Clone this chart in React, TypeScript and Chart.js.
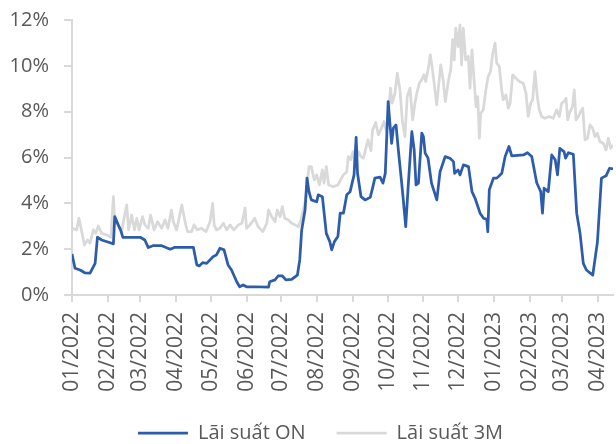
import React, { useEffect, useRef } from "react";
import { Chart, registerables } from "chart.js";

Chart.register(...registerables);

// Day offsets counted from 01/01/2022
const monthTickDays = [0, 31, 59, 90, 120, 151, 181, 212, 243, 273, 304, 334, 365, 396, 424, 455];
const monthLabels = [
  "01/2022", "02/2022", "03/2022", "04/2022", "05/2022", "06/2022", "07/2022", "08/2022",
  "09/2022", "10/2022", "11/2022", "12/2022", "01/2023", "02/2023", "03/2023", "04/2023",
];
const yTickValues = [0, 2, 4, 6, 8, 10, 12];

// Lãi suất ON (overnight)
const onDays = [
  0, 2.6, 7, 11, 15.6, 20, 22, 25.7, 33, 35.8, 37, 40, 42, 44, 59, 63, 66, 70, 77.6, 85, 89, 105,
  108, 110, 113, 116.5, 122, 125, 128, 131.5, 135, 138, 142.5, 145, 148, 151, 157, 170, 171, 175.6,
  178.5, 182, 185, 190, 195, 197, 198.7, 201.6, 203.3, 205, 207, 211.7, 213, 216.6, 220, 223, 224.7,
  227, 230, 232, 234.8, 237.7, 240.6, 244, 245.8, 247, 250, 253.5, 258, 260, 262, 266.5, 269, 271,
  273.5, 275, 276.5, 278, 280.3, 282.3, 285.2, 286.5, 288.7, 291, 294, 296, 297.6, 299.7, 302.6,
  304, 305.5, 308, 311, 315.6, 318.4, 322.8, 327, 330, 331, 334, 335.7, 338.6, 343, 346, 348.7,
  353, 356, 358.8, 359.7, 361, 364.6, 367.5, 371.8, 374.7, 378, 380.4, 390.5, 394, 397.7, 402,
  405.5, 407, 408.4, 412, 415, 418, 420, 422, 425.6, 427, 429.5, 433.7, 436.6, 439.5, 442.3, 445,
  450.5, 454.5, 458, 462, 465, 468,
];
const onValues = [
  1.79, 1.17, 1.09, 0.97, 0.95, 1.38, 2.52, 2.4, 2.28, 2.23, 3.42, 3.06, 2.84, 2.52, 2.52, 2.4, 2.07,
  2.15, 2.15, 2.0, 2.08, 2.08, 1.31, 1.27, 1.41, 1.38, 1.67, 1.75, 2.04, 1.97, 1.31, 1.09, 0.58,
  0.36, 0.44, 0.36, 0.36, 0.34, 0.58, 0.66, 0.84, 0.83, 0.66, 0.68, 0.87, 1.53, 2.84, 3.71, 5.1,
  4.51, 4.15, 4.07, 4.37, 4.29, 2.69, 2.33, 1.97, 2.33, 2.55, 3.57, 3.57, 4.37, 4.51, 5.24, 6.88,
  5.31, 4.29, 4.15, 4.26, 4.66, 5.1, 5.14, 4.88, 5.31, 8.44, 7.5, 6.62, 7.28, 7.42, 6.33, 4.88,
  4.2, 2.98, 4.88, 7.13, 6.33, 4.8, 4.88, 7.06, 6.91, 6.19, 5.97, 4.88, 4.15, 5.38, 6.04, 5.97,
  5.82, 5.31, 5.46, 5.24, 5.68, 5.6, 4.51, 4.22, 3.57, 3.35, 3.3, 2.76, 4.59, 5.1, 5.1, 5.31, 6.04,
  6.48, 6.07, 6.11, 6.21, 6.04, 4.9, 4.51, 3.57, 4.66, 4.51, 6.11, 5.9, 5.24, 6.4, 6.26, 5.97,
  6.21, 6.14, 3.57, 2.69, 1.38, 1.09, 0.87, 2.3, 5.1, 5.2, 5.53, 5.5,
];

// Lãi suất 3M
const m3Days = [
  0, 4, 6, 8.4, 10.7, 13.5, 15.6, 18.5, 20.5, 22.8, 25.7, 30, 33.7, 35.8, 37, 38.5, 40.6, 43, 45,
  47.3, 49, 51.6, 54, 56, 58, 61, 63, 66, 68, 71, 74, 77.6, 80.5, 83, 86, 87.6, 90.5, 95, 97.8,
  99.8, 103.5, 105.5, 108.4, 112, 116, 119.4, 121.7, 123, 125, 128, 131, 133.8, 136.7, 140, 144,
  147, 149.7, 151, 154, 158, 161, 165, 168.5, 170, 172.7, 175.6, 177.6, 180, 182, 184, 187, 190,
  193, 196, 198, 200, 202, 205, 207, 209.6, 211.7, 214, 216.6, 218, 220, 222, 226, 230, 234.7,
  237.7, 239, 241, 243, 245, 247.7, 250, 252, 253.5, 256, 258.6, 260, 262.7, 265, 267, 270, 272, 274,
  275.5, 277, 279.4, 281.4, 283.7, 285.7, 288, 290, 292.4, 294.7, 296.7, 298, 300.4, 302.5,
  304.5, 306, 308, 310, 312.6, 315.5, 317.5, 319, 321, 323, 325.5, 327.6, 329.3, 330.7, 332, 334,
  335.6, 337, 338.5, 340.5, 342.8, 344.3, 346, 347.8, 349.5, 351, 352.4, 353.6, 355.8, 358, 360,
  362, 364, 366, 367.4, 369.6, 371.7, 373, 375.4, 377.4, 379, 381.2, 384, 387, 390.4, 392.7,
  394.7, 396.8, 398.5, 400.5, 402.5, 404.2, 406.3, 409, 412.8, 416.3, 419.3, 421.5, 423.6, 425.6,
  427.4, 428.8, 430.8, 433, 434.5, 436, 438, 440, 441.8, 443.8, 446, 448, 450.4, 452.4, 454.4,
  456.7, 459.6, 462, 464, 466, 468,
];
const m3Values = [
  2.91, 2.84, 3.35, 2.77, 2.18, 2.4, 2.26, 2.84, 2.69, 3.01, 2.69, 2.62, 2.52, 4.29, 3.13, 3.2,
  2.98, 2.77, 3.35, 3.93, 2.84, 3.49, 2.84, 3.35, 2.84, 3.42, 3.06, 2.91, 3.49, 2.84, 3.2, 2.91,
  3.28, 2.91, 3.71, 3.2, 2.84, 3.93, 3.2, 2.77, 2.77, 3.06, 2.84, 2.91, 2.77, 3.2, 4.0, 3.06, 2.84,
  2.91, 3.13, 2.84, 3.06, 2.84, 3.06, 3.13, 3.79, 2.91, 3.06, 3.35, 2.98, 2.77, 3.13, 3.71, 3.42,
  3.2, 3.71, 3.42, 3.86, 3.35, 3.28, 3.13, 3.06, 2.98, 3.28, 3.71, 4.15, 5.6, 5.6, 5.02, 5.24, 4.8,
  5.46, 4.88, 5.6, 4.8, 4.73, 4.8, 5.24, 5.38, 6.04, 5.9, 6.26, 5.68, 6.26, 6.04, 5.97, 6.26, 6.77,
  6.3, 7.2, 7.53, 6.99, 7.2, 7.57, 7.13, 8.08, 9.03, 8.37, 8.81, 9.68, 8.95, 7.64, 6.91, 8.66, 9.03,
  7.64, 8.37, 8.73, 9.24, 9.39, 9.61, 9.32, 9.83, 10.48, 9.53, 8.3, 9.32, 10.04, 9.39, 8.44, 9.32,
  9.83, 11.14, 10.26, 11.65, 10.84, 11.79, 10.04, 11.65, 10.26, 10.41, 9.03, 10.7, 9.39, 8.22,
  8.66, 6.84, 7.93, 8.08, 8.95, 9.53, 9.75, 10.55, 10.99, 10.12, 9.97, 8.95, 8.52, 8.73, 8.15,
  8.37, 9.61, 9.46, 9.32, 9.24, 8.81, 7.79, 8.37, 8.52, 9.75, 8.66, 8.08, 7.79, 7.71, 7.79, 7.71,
  8.08, 7.79, 8.37, 8.44, 8.59, 7.64, 8.0, 8.22, 8.95, 7.64, 7.79, 8.0, 8.15, 6.77, 6.84, 7.42,
  7.28, 6.91, 7.06, 6.69, 6.62, 6.33, 6.84, 6.4, 6.55,
];

const FONT = "'Open Sans', 'Noto Sans', sans-serif";
const TEXT = "#595959";
const AXIS = "#D9D9D9";

export default function App() {
  const ref = useRef<HTMLCanvasElement | null>(null);

  useEffect(() => {
    if (!ref.current) return;
    const chart = new Chart(ref.current, {
      type: "line",
      data: {
        datasets: [
          {
            label: "Lãi suất ON",
            data: onDays.map((d, i) => ({ x: d, y: onValues[i] })),
            borderColor: "#2C5CAA",
            backgroundColor: "#2C5CAA",
            borderWidth: 2.75,
            pointRadius: 0,
            pointHoverRadius: 0,
            tension: 0,
            borderJoinStyle: "round",
          },
          {
            label: "Lãi suất 3M",
            data: m3Days.map((d, i) => ({ x: d, y: m3Values[i] })),
            borderColor: "#D9D9D9",
            backgroundColor: "#D9D9D9",
            borderWidth: 2.75,
            pointRadius: 0,
            pointHoverRadius: 0,
            tension: 0,
            borderJoinStyle: "round",
          },
        ],
      },
      options: {
        responsive: false,
        animation: false,
        events: [],
        layout: { padding: { left: 28, right: 3, top: 20, bottom: -9 } },
        plugins: {
          tooltip: { enabled: false },
          legend: {
            position: "bottom",
            labels: {
              usePointStyle: true,
              pointStyle: "line",
              pointStyleWidth: 50,
              padding: 31,
              color: TEXT,
              font: { family: FONT, size: 20 },
            },
          },
        },
        scales: {
          x: {
            type: "linear",
            min: 0,
            max: 468,
            afterBuildTicks: (scale: any) => {
              scale.ticks = monthTickDays.map((v) => ({ value: v }));
            },
            afterFit: (scale: any) => {
              scale.height = 97;
              scale.paddingLeft = 0;
              scale.paddingRight = 0;
              scale.paddingTop = 0;
              scale.paddingBottom = 0;
            },
            ticks: {
              autoSkip: false,
              maxRotation: 90,
              minRotation: 90,
              padding: 10,
              color: TEXT,
              font: { family: FONT, size: 21 },
              callback: (_v: any, i: number) => monthLabels[i],
            },
            grid: { drawOnChartArea: false, drawTicks: true, tickLength: 7, color: AXIS, lineWidth: 2 },
            border: { display: true, color: AXIS, width: 2 },
          },
          y: {
            min: 0,
            max: 12,
            afterBuildTicks: (scale: any) => {
              scale.ticks = yTickValues.map((v) => ({ value: v }));
            },
            afterFit: (scale: any) => {
              scale.width = 44;
              scale.paddingTop = 0;
              scale.paddingBottom = 0;
              // let the tick labels extend left of the (narrow) axis box without clipping
              scale._computeLabelArea = () => undefined;
            },
            ticks: {
              padding: 15,
              color: TEXT,
              font: { family: FONT, size: 20 },
              callback: (v: any) => `${v}%`,
            },
            grid: { drawOnChartArea: false, drawTicks: true, tickLength: 8, color: AXIS, lineWidth: 2 },
            border: { display: true, color: AXIS, width: 2 },
          },
        },
      },
    });
    return () => chart.destroy();
  }, []);

  return (
    <div style={{ position: "fixed", left: 0, top: 0, width: 616, height: 444, background: "#fff" }}>
      <canvas ref={ref} width={616} height={444} style={{ display: "block" }} />
    </div>
  );
}
